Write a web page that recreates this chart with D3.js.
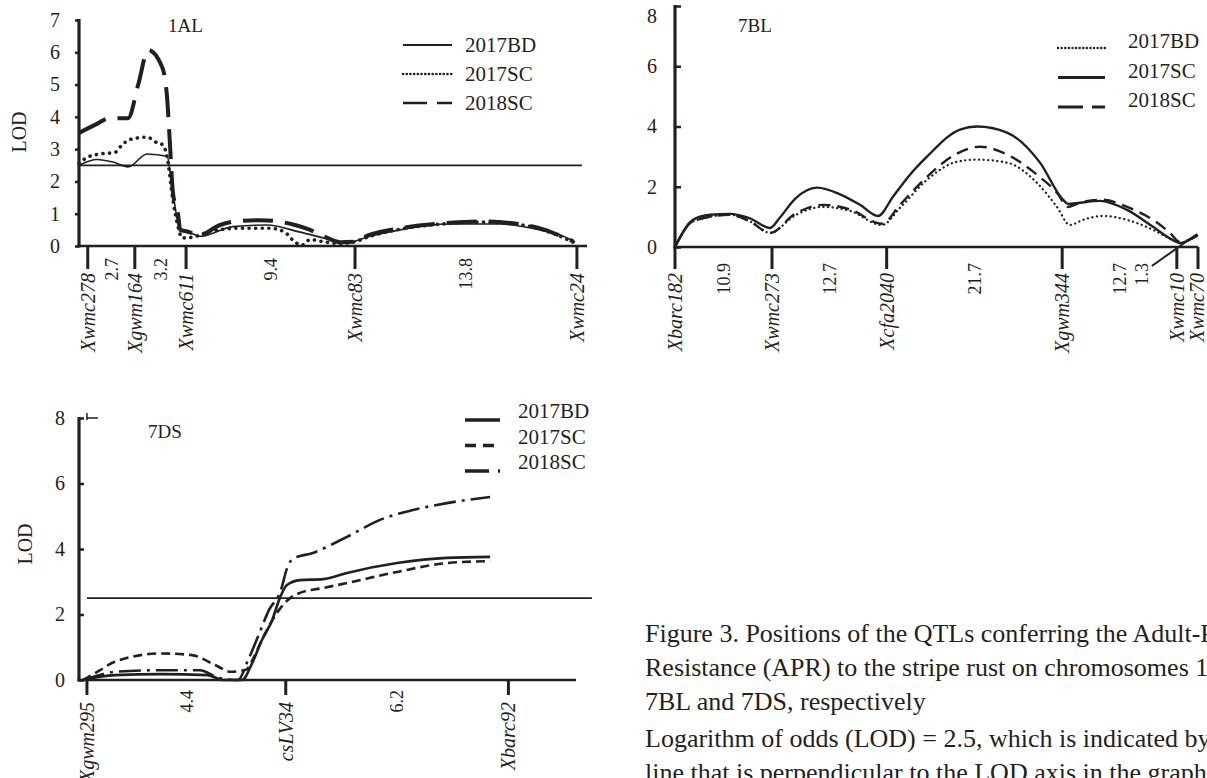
<!DOCTYPE html>
<html><head><meta charset="utf-8">
<script src="https://cdn.jsdelivr.net/npm/d3@7"></script>
<style>
body{margin:0;background:#fff;}
svg{display:block;font-family:"Liberation Serif","Times New Roman",serif;}
</style></head><body>
<svg id="c" width="1207" height="778"></svg>
<script>
// ---------------- DATA ----------------
const seriesNames = ["2017BD", "2017SC", "2018SC"];

// Chromosome 1AL
const markers1AL = ["Xwmc278", "Xgwm164", "Xwmc611", "Xwmc83", "Xwmc24"];
const markerPos1AL = [0, 2.8, 5.85, 15.9, 29.1];          // map position as drawn (cM)
const intervals1AL = ["2.7", "3.2", "9.4", "13.8"];
const yTicks1AL = [0, 1, 2, 3, 4, 5, 6, 7];
const cm1AL_2017BD = [-0.52,0.55,1.5,2.4,3.53,4.48,4.72,5.07,5.5,5.79,6.67,8.63,10.65,12.63,14.6,15.42,16.79,18.58,21.55,24.53,26.9,28.1,28.99];
const lod1AL_2017BD = [2.5,2.68,2.6,2.45,2.85,2.8,2.78,1.64,0.5,0.48,0.3,0.6,0.65,0.43,0.18,0.1,0.3,0.5,0.68,0.68,0.5,0.34,0.13];
const cm1AL_2017SC = [-0.52,0.02,0.73,1.62,2.04,2.52,3.53,4.12,4.48,4.72,5.07,5.37,5.61,6.2,7.27,9.06,10.85,11.74,12.33,12.75,13.23,13.82,15.01,15.78,16.79,18.58,21.55,23.34,25.7,27.2,28.1,28.87];
const lod1AL_2017SC = [2.56,2.76,2.85,2.9,3.13,3.3,3.37,3.2,3.13,2.76,1.42,0.6,0.25,0.27,0.45,0.55,0.55,0.42,0.12,0.03,0.2,0.15,0.08,0.12,0.3,0.52,0.7,0.74,0.66,0.48,0.3,0.12];
const cm1AL_2018SC = [-0.52,0.43,1.33,2.4,3.0,3.59,4.42,4.72,4.9,5.07,5.37,5.5,5.9,6.67,7.87,9.06,10.25,11.44,12.33,13.23,14.12,15.01,15.78,16.79,18.58,21.55,23.34,25.7,27.2,28.1,28.87];
const lod1AL_2018SC = [3.5,3.75,3.96,3.96,4.99,6.07,5.55,4.6,3.07,1.64,1.0,0.5,0.45,0.35,0.65,0.78,0.8,0.75,0.65,0.5,0.28,0.12,0.13,0.35,0.55,0.72,0.76,0.68,0.5,0.32,0.15];

// Chromosome 7BL
const markers7BL = ["Xbarc182", "Xwmc273", "Xcfa2040", "Xgwm344", "Xwmc10", "Xwmc70"];
const markerPos7BL = [0, 11.0, 24.0, 43.9, 56.9, 59.3];
const intervals7BL = ["10.9", "12.7", "21.7", "12.7", "1.3"];
const yTicks7BL = [0, 2, 4, 6, 8];
const cm7BL_2017BD = [0,2.04,6.24,8.5,10.77,13.61,16.78,19.84,23.47,25.51,28.57,31.97,34.24,37.64,41.04,43.31,44.78,46.26,48.53,51.25,54.2,56.46,57.26,58.39,59.3];
const lod7BL_2017BD = [0,0.85,1.07,0.85,0.47,1.05,1.33,1.2,0.73,1.3,2.23,2.83,2.9,2.8,2.13,1.33,0.73,0.9,1.03,0.9,0.57,0.23,0.13,0.25,0.4];
const cm7BL_2017SC = [0,2.04,3.97,6.24,8.5,10.77,11.9,13.61,16.1,18.71,20.98,23.02,24.72,26.64,28.57,32.31,34.24,37.64,41.38,43.99,44.56,45.92,48.19,51.25,54.2,56.46,57.26,58.39,59.3];
const lod7BL_2017SC = [0,0.9,1.07,1.1,0.95,0.63,0.98,1.6,1.97,1.75,1.4,1.03,1.67,2.4,3.0,3.9,4.0,3.8,2.8,1.57,1.43,1.47,1.53,1.23,0.67,0.23,0.13,0.25,0.4];
const cm7BL_2018SC = [0,2.04,6.24,8.5,10.77,13.61,16.78,19.84,23.47,25.51,28.57,31.97,34.58,37.64,41.04,43.31,44.56,45.92,48.53,51.25,54.2,56.12,57.26,58.39,59.3];
const lod7BL_2018SC = [0,0.85,1.07,0.85,0.47,1.1,1.4,1.25,0.77,1.4,2.33,3.1,3.33,3.07,2.4,1.8,1.33,1.47,1.57,1.33,0.9,0.47,0.17,0.25,0.4];

// Chromosome 7DS
const markers7DS = ["Xgwm295", "csLV34", "Xbarc92"];
const markerPos7DS = [0, 5.0, 10.6];
const intervals7DS = ["4.4", "6.2"];
const yTicks7DS = [0, 2, 4, 6, 8];
const cm7DS_2017BD = [-0.1,0.33,0.7,1.86,3.04,3.42,3.9,4.15,4.4,4.65,4.85,5.03,5.36,5.94,6.54,7.8,9.05,10.14];
const lod7DS_2017BD = [0,0.1,0.15,0.18,0.15,0,0,0.5,1.22,1.8,2.5,2.9,3.05,3.08,3.27,3.57,3.73,3.76];
const cm7DS_2017SC = [-0.1,0.33,0.7,1.87,2.64,3.22,3.62,4.0,4.2,4.4,4.65,4.9,5.11,5.36,5.94,6.54,7.8,9.05,10.14];
const lod7DS_2017SC = [0,0.3,0.56,0.81,0.76,0.46,0.25,0.31,0.7,1.22,1.8,2.25,2.5,2.66,2.81,2.96,3.3,3.57,3.63];
const cm7DS_2018SC = [-0.1,0.33,0.7,1.86,2.84,3.32,3.8,4.05,4.3,4.58,4.88,5.03,5.18,5.68,6.54,7.37,8.2,9.05,10.14];
const lod7DS_2018SC = [0,0.15,0.25,0.3,0.3,0.06,0,0.6,1.32,2.14,2.75,3.4,3.7,3.88,4.37,4.89,5.19,5.4,5.59];

const lodThreshold = 2.5;

const captionLines = [
  "Figure 3. Positions of the QTLs conferring the Adult-Plant",
  "Resistance (APR) to the stripe rust on chromosomes 1AL,",
  "7BL and 7DS, respectively",
  "Logarithm of odds (LOD) = 2.5, which is indicated by a bold",
  "line that is perpendicular to the LOD axis in the graphs"
];

// ---------------- DRAWING ----------------
const INK = "#231f20";
const svg = d3.select("#c");

function drawPanel(o) {
  const g = svg.append("g");
  const x = d3.scaleLinear().domain(o.xDomain).range([o.left, o.right]);
  const y = d3.scaleLinear().domain(o.yDomain).range([o.bottom, o.top]);

  // threshold line
  if (o.threshold) {
    g.append("line")
      .attr("x1", x(o.threshold[0])).attr("x2", x(o.threshold[1]))
      .attr("y1", y(lodThreshold)).attr("y2", y(lodThreshold))
      .attr("stroke", INK).attr("stroke-width", 1.7);
  }

  // curves
  const line = d3.line().x(d => x(d[0])).y(d => y(d[1])).curve(d3.curveMonotoneX);
  o.series.forEach((s, i) => {
    const st = o.styles[i];
    g.append("path").datum(d3.zip(s.cm, s.lod))
      .attr("d", line).attr("fill", "none").attr("stroke", INK)
      .attr("stroke-width", st.w)
      .attr("stroke-dasharray", st.dash || null)
      .attr("stroke-linecap", st.cap || "butt")
      .attr("stroke-linejoin", "round");
  });

  // y axis
  const ya = d3.axisLeft(y).tickValues(o.yTicks).tickSize(o.yTickSize).tickPadding(o.yPad).tickFormat(d3.format("d"));
  const yg = g.append("g").attr("transform", `translate(${o.left},0)`).call(ya);
  yg.select(".domain").remove();
  yg.selectAll(".tick line").attr("stroke", INK).attr("stroke-width", 2.5);
  yg.selectAll(".tick text").attr("fill", INK).style("font-size", "20px")
    .style("font-family", '"Liberation Serif","Times New Roman",serif')
    .attr("dy", d => (y(d) < 12 ? "0.8em" : "0.32em"));
  g.append("line").attr("x1", o.left).attr("x2", o.left)
    .attr("y1", y(o.yDomain[1]) - 1).attr("y2", o.bottom + 1.5)
    .attr("stroke", INK).attr("stroke-width", 3.2);

  // x axis (genetic map)
  g.append("line").attr("x1", o.left - 1.5).attr("x2", o.right)
    .attr("y1", o.bottom).attr("y2", o.bottom)
    .attr("stroke", INK).attr("stroke-width", 2.6);

  o.markerPos.forEach((p, i) => {
    g.append("line").attr("x1", x(p)).attr("x2", x(p))
      .attr("y1", o.bottom).attr("y2", o.bottom + o.mTick)
      .attr("stroke", INK).attr("stroke-width", 3);
    const tx = Math.min(x(p), 1197), ty = o.bottom + o.mGap;
    g.append("text").attr("transform", `translate(${tx},${ty}) rotate(-90)`)
      .attr("dy", "0.35em").attr("text-anchor", "end")
      .style("font-size", "20px").style("font-style", "italic").attr("fill", INK)
      .text(o.markers[i]);
  });

  o.intervals.forEach((lab, i) => {
    let tx = (x(o.markerPos[i]) + x(o.markerPos[i + 1])) / 2;
    const narrow = x(o.markerPos[i + 1]) - x(o.markerPos[i]) < 30;
    if (narrow) {
      tx = x(o.markerPos[i]) - 35;
      g.append("line")
        .attr("x1", tx + 10).attr("y1", o.bottom + 19)
        .attr("x2", x(o.markerPos[i + 1]) - 1).attr("y2", o.bottom - 13)
        .attr("stroke", INK).attr("stroke-width", 2);
    }
    const ty = o.bottom + o.iGap;
    g.append("text").attr("transform", `translate(${tx},${ty}) rotate(-90)`)
      .attr("dy", "0.35em").attr("text-anchor", "end")
      .style("font-size", "18px").attr("fill", INK)
      .text(lab);
  });

  // y label
  if (o.yLabel) {
    g.append("text").attr("transform", `translate(${o.yLabel[0]},${o.yLabel[1]}) rotate(-90)`)
      .attr("text-anchor", "middle").attr("dy", "0.35em")
      .style("font-size", "20px").attr("fill", INK).text("LOD");
  }

  // title
  g.append("text").attr("x", o.title[1]).attr("y", o.title[2])
    .style("font-size", "19px").attr("fill", INK).text(o.title[0]);

  // legend
  const lg = o.legend;
  seriesNames.forEach((name, i) => {
    const ly = lg.y + i * lg.step;
    const st = lg.styles[i];
    g.append("line").attr("x1", lg.x1).attr("x2", lg.x2).attr("y1", ly).attr("y2", ly)
      .attr("stroke", INK).attr("stroke-width", st.w)
      .attr("stroke-dasharray", st.dash || null).attr("stroke-linecap", st.cap || "butt");
    g.append("text").attr("x", lg.tx).attr("y", ly + lg.dy)
      .style("font-size", "21px").attr("fill", INK).text(name);
  });

  return {g, x, y};
}

// Panel 1AL
drawPanel({
  left: 79, right: 587, top: 20, bottom: 246,
  xDomain: [-0.52, 29.7], yDomain: [0, 7], yTicks: yTicks1AL,
  yTickSize: 4, yPad: 15, yLabel: [19, 132],
  threshold: [-0.52, 29.4],
  markers: markers1AL, markerPos: markerPos1AL, intervals: intervals1AL,
  mTick: 23, mGap: 27, iGap: 12,
  title: ["1AL", 168, 32],
  series: [
    {cm: cm1AL_2017BD, lod: lod1AL_2017BD},
    {cm: cm1AL_2017SC, lod: lod1AL_2017SC},
    {cm: cm1AL_2018SC, lod: lod1AL_2018SC}
  ],
  styles: [
    {w: 1.6},
    {w: 3.6, dash: "0.1 6.5", cap: "round"},
    {w: 4, dash: "30 12"}
  ],
  legend: {x1: 403, x2: 452, tx: 465, y: 45, step: 29, dy: 7,
    styles: [{w: 2.2}, {w: 2.6, dash: "0.1 3.6", cap: "round"}, {w: 2.6, dash: "24 10"}]}
});

// Panel 7BL
const p2 = drawPanel({
  left: 675, right: 1198, top: 6, bottom: 247,
  xDomain: [0, 59.3], yDomain: [0, 8], yTicks: yTicks7BL,
  yTickSize: -6, yPad: 18, yLabel: null,
  threshold: null,
  markers: markers7BL, markerPos: markerPos7BL, intervals: intervals7BL,
  mTick: 22, mGap: 26, iGap: 16,
  title: ["7BL", 738, 32],
  series: [
    {cm: cm7BL_2017BD, lod: lod7BL_2017BD},
    {cm: cm7BL_2017SC, lod: lod7BL_2017SC},
    {cm: cm7BL_2018SC, lod: lod7BL_2018SC}
  ],
  styles: [
    {w: 2.3, dash: "0.1 4.5", cap: "round"},
    {w: 2.4},
    {w: 2.4, dash: "12 7"}
  ],
  legend: {x1: 1058, x2: 1105, tx: 1128, y: 48, step: 29.5, dy: 0,
    styles: [{w: 2.4, dash: "0.1 3.5", cap: "round"}, {w: 2.8}, {w: 2.8, dash: "25 9"}]}
});

// Panel 7DS
const p3 = drawPanel({
  left: 79, right: 576, top: 418, bottom: 680,
  xDomain: [-0.2, 12.3], yDomain: [0, 8], yTicks: yTicks7DS,
  yTickSize: -5, yPad: 14, yLabel: [25, 544],
  threshold: [0, 12.7],
  markers: markers7DS, markerPos: markerPos7DS, intervals: intervals7DS,
  mTick: 15, mGap: 22, iGap: 10,
  title: ["7DS", 148, 438],
  series: [
    {cm: cm7DS_2017BD, lod: lod7DS_2017BD},
    {cm: cm7DS_2017SC, lod: lod7DS_2017SC},
    {cm: cm7DS_2018SC, lod: lod7DS_2018SC}
  ],
  styles: [
    {w: 2.6},
    {w: 2.6, dash: "9 5"},
    {w: 2.6, dash: "22 6 3 6"}
  ],
  legend: {x1: 465, x2: 500, tx: 518, y: 420, step: 25.5, dy: -2,
    styles: [{w: 3.4}, {w: 3.4, dash: "11 7"}, {w: 3.4, dash: "24 9 3 100"}]}
});
// small bracket mark at the top of the 7DS LOD axis
p3.g.append("path")
  .attr("d", `M${p3.x(0)},${p3.y(8) - 5}V${p3.y(8) + 2}M${p3.x(0)},${p3.y(8)}H${p3.x(0) + 11}`)
  .attr("stroke", INK).attr("stroke-width", 1.5).attr("fill", "none");

// caption
const capY = [642, 676, 710, 747, 781];
svg.append("g").selectAll("text").data(captionLines).join("text")
  .attr("x", 645).attr("y", (d, i) => capY[i])
  .style("font-size", "26px").attr("fill", INK).text(d => d);
</script>
</body></html>
